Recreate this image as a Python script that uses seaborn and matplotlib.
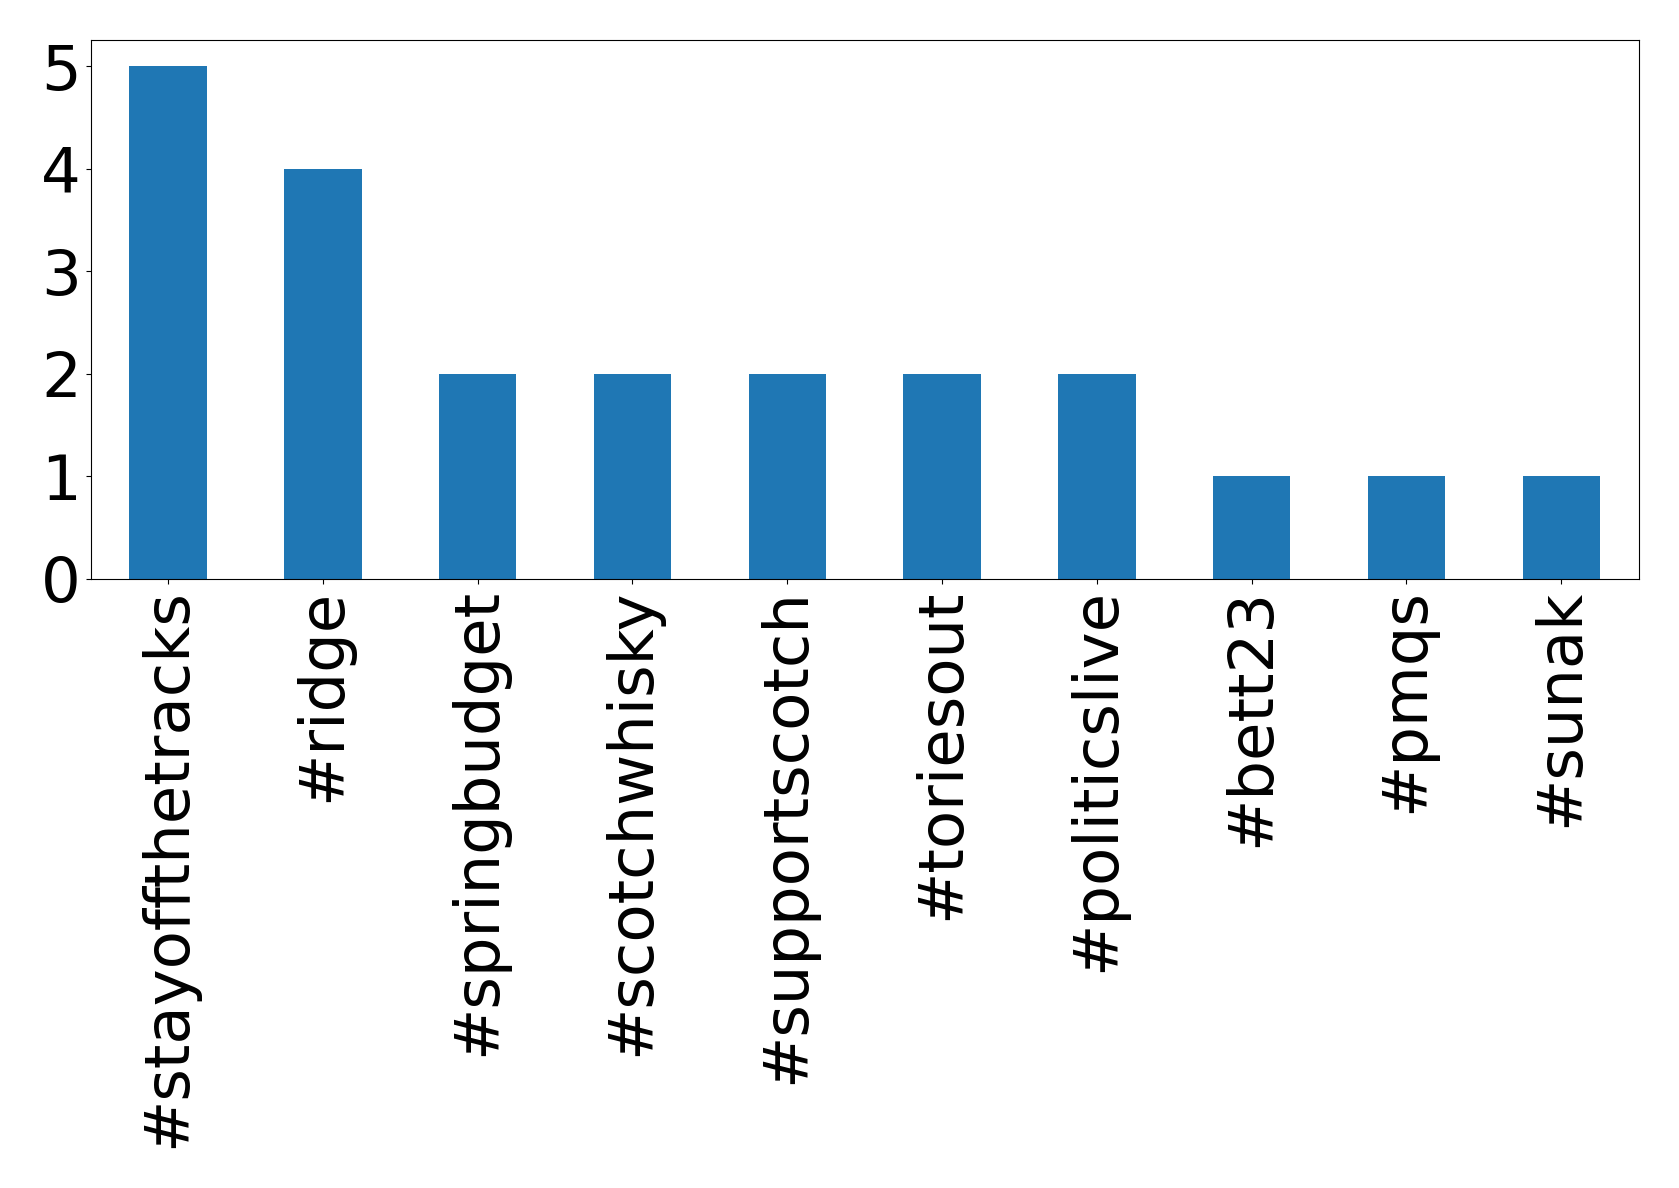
import pandas as pd
import matplotlib.pyplot as plt
import seaborn as sns

# hashtag counts
hashtags = ['#stayoffthetracks', '#ridge', '#springbudget', '#scotchwhisky',
            '#supportscotch', '#toriesout', '#politicslive', '#bett23',
            '#pmqs', '#sunak']
counts = [5, 4, 2, 2, 2, 2, 2, 1, 1, 1]
yticks = [0, 1, 2, 3, 4, 5]

df = pd.DataFrame({'hashtag': hashtags, 'count': counts})

fig, ax = plt.subplots(figsize=(16.79, 11.88), dpi=100)
sns.barplot(data=df, x='hashtag', y='count', color='#1f77b4', width=0.5,
            saturation=1, ax=ax)
ax.set_xlim(-0.5, len(hashtags) - 0.5)
ax.set_ylim(0, 5.25)
ax.set_yticks(yticks)
ax.set_xlabel('')
ax.set_ylabel('')
ax.tick_params(axis='both', labelsize=45)
plt.xticks(rotation=90)
fig.subplots_adjust(left=0.054, right=0.976, top=0.966, bottom=0.513)
fig.savefig('out.png', dpi=100)
